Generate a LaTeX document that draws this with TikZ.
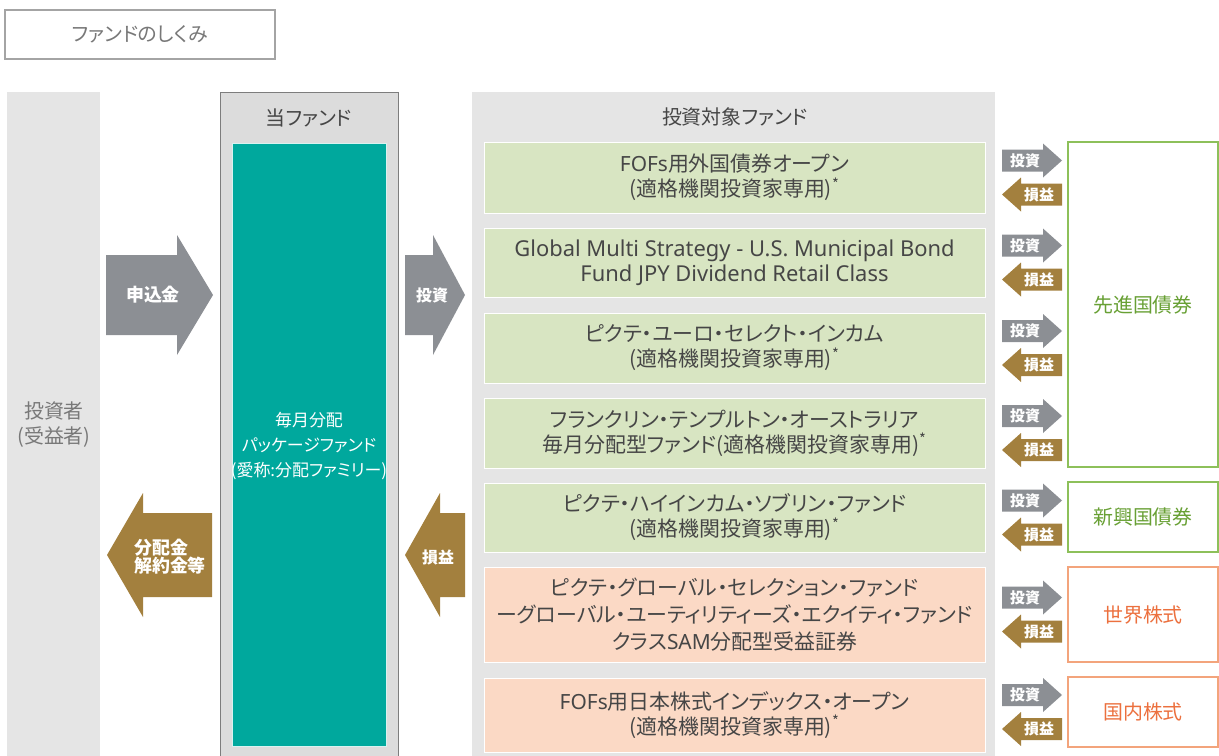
\documentclass[tikz,border=0pt]{standalone}
\usepackage{fontspec}
\setmainfont{Noto Sans CJK JP}[RawFeature=+palt]
\newfontfamily\latinfont{Noto Sans}
\usetikzlibrary{positioning}

\definecolor{panelgray}{RGB}{229,229,229}
\definecolor{fundgray}{RGB}{220,220,220}
\definecolor{edgegray}{RGB}{125,125,125}
\definecolor{fundteal}{RGB}{0,168,157}
\definecolor{arrgray}{RGB}{140,143,148}
\definecolor{arrbrown}{RGB}{163,128,62}
\definecolor{greenfill}{RGB}{216,229,194}
\definecolor{orangefill}{RGB}{251,217,197}
\definecolor{greenline}{RGB}{141,192,90}
\definecolor{greentext}{RGB}{104,160,52}
\definecolor{orangeline}{RGB}{243,164,124}
\definecolor{orangetext}{RGB}{236,112,62}
\definecolor{txtgray}{RGB}{70,70,70}
\definecolor{softgray}{RGB}{120,120,120}

\tikzset{
  fundbox/.style={fill=#1, draw=white, line width=1pt, minimum width=501bp,
    inner sep=0pt, align=center, text=txtgray, font=\fontsize{21}{25}\selectfont},
  catbox/.style={draw=#1line, fill=white, line width=1.2pt, minimum width=150bp,
    inner sep=0pt, text=#1text, font=\fontsize{20}{24}\selectfont},
  tag/.style={text=white, font=\bfseries\fontsize{#1}{#1}\selectfont, inner sep=0pt, align=left},
  head/.style={text=txtgray, font=\fontsize{20}{24}\selectfont, inner sep=0pt}
}

\begin{document}
\begin{tikzpicture}[x=1bp, y=-1bp]
	\useasboundingbox (0,0) rectangle (1219,756);
	% title
	\node[draw=edgegray!70, line width=1.2pt, minimum width=270bp, minimum height=49bp,
	  text=softgray, font=\fontsize{20}{20}\selectfont] (title) at (140,34.5) {ファンドのしくみ};
	% investor column
	\fill[panelgray] (7,92) rectangle (100,756);
	\node[text=softgray, align=center, font=\fontsize{20}{25}\selectfont] (investor) at (54,425) {投資者\\(受益者)};
	% this fund
	\filldraw[fill=fundgray, draw=edgegray, line width=1pt] (220,92) rectangle (398,757);
	\node[head] (thisfund) at (309,118) {当ファンド};
	\filldraw[fill=fundteal, draw=white!85!fundteal, line width=0.8pt] (232,143) rectangle (386,746);
	\node[text=white, align=center, font=\fontsize{17}{25}\selectfont] (family) at (309,446)
	  {毎月分配\\パッケージファンド\\(愛称:分配ファミリー)};
	% big arrows
	\fill[arrgray] (106,255) -- (177,255) -- (177,235) -- (213,295) -- (177,355) -- (177,335) -- (106,335) -- cycle;
	\node[tag=18] (apply) at (153,295) {申込金};
	\fill[arrbrown] (212,513) -- (143,513) -- (143,493) -- (107,555) -- (143,617) -- (143,597) -- (212,597) -- cycle;
	\node[tag=18] (payout) at (170,557) {分配金\\解約金等};
	\fill[arrgray] (405,255) -- (433,255) -- (433,235) -- (465,295) -- (433,355) -- (433,335) -- (405,335) -- cycle;
	\node[tag=16] (invest) at (432,295) {投資};
	\fill[arrbrown] (465,513) -- (440,513) -- (440,493) -- (405,555) -- (440,617) -- (440,597) -- (465,597) -- cycle;
	\node[tag=16] (gain) at (438,557) {損益};
	% target funds
	\fill[panelgray] (472,92) rectangle (995,756);
	\node[head] (target) at (735,117) {投資対象ファンド};
	\node[fundbox=greenfill, minimum height=71bp] (f1) at (734.5,177.5)
	  {{\latinfont FOFs}用外国債券オープン\\(適格機関投資家専用)\textsuperscript{*}};
	\node[fundbox=greenfill, minimum height=69bp, font=\latinfont\fontsize{22}{25}\selectfont] (f2) at (734.5,262.5)
	  {Global Multi Strategy - U.S. Municipal Bond\\Fund JPY Dividend Retail Class};
	\node[fundbox=greenfill, minimum height=70bp] (f3) at (734.5,348)
	  {ピクテ・ユーロ・セレクト・インカム\\(適格機関投資家専用)\textsuperscript{*}};
	\node[fundbox=greenfill, minimum height=70bp] (f4) at (734.5,433)
	  {フランクリン・テンプルトン・オーストラリア\\毎月分配型ファンド(適格機関投資家専用)\textsuperscript{*}};
	\node[fundbox=greenfill, minimum height=69bp] (f5) at (734.5,517.5)
	  {ピクテ・ハイインカム・ソブリン・ファンド\\(適格機関投資家専用)\textsuperscript{*}};
	\node[fundbox=orangefill, minimum height=95bp, font=\fontsize{21}{27}\selectfont] (f6) at (734.5,614.5)
	  {ピクテ・グローバル・セレクション・ファンド\\ーグローバル・ユーティリティーズ・エクイティ・ファンド\\クラス{\latinfont SAM}分配型受益証券};
	\node[fundbox=orangefill, minimum height=74bp] (f7) at (734.5,715)
	  {{\latinfont FOFs}用日本株式インデックス・オープン\\(適格機関投資家専用)\textsuperscript{*}};
	% small arrows
	\foreach \c [count=\i] in {177.5,262.5,348,433,517.5,614.5,712}{
		\fill[arrgray] (1002,\c-28) -- (1043,\c-28) -- (1043,\c-34) -- (1062,\c-17) -- (1043,\c) -- (1043,\c-6) -- (1002,\c-6) -- cycle;
		\node[tag=15] (inv\i) at (1025,\c-17) {投資};
		\fill[arrbrown] (1062,\c+6) -- (1021,\c+6) -- (1021,\c) -- (1002,\c+17) -- (1021,\c+34) -- (1021,\c+28) -- (1062,\c+28) -- cycle;
		\node[tag=15] (ret\i) at (1039,\c+17) {損益};
	}
	% asset classes
	\node[catbox=green, minimum height=325bp] (dev) at (1143,304.5) {先進国債券};
	\node[catbox=green, minimum height=70bp] (emg) at (1143,517) {新興国債券};
	\node[catbox=orange, minimum height=95bp] (world) at (1143,614.5) {世界株式};
	\node[catbox=orange, minimum height=70bp] (dom) at (1143,712) {国内株式};
\end{tikzpicture}
\end{document}
